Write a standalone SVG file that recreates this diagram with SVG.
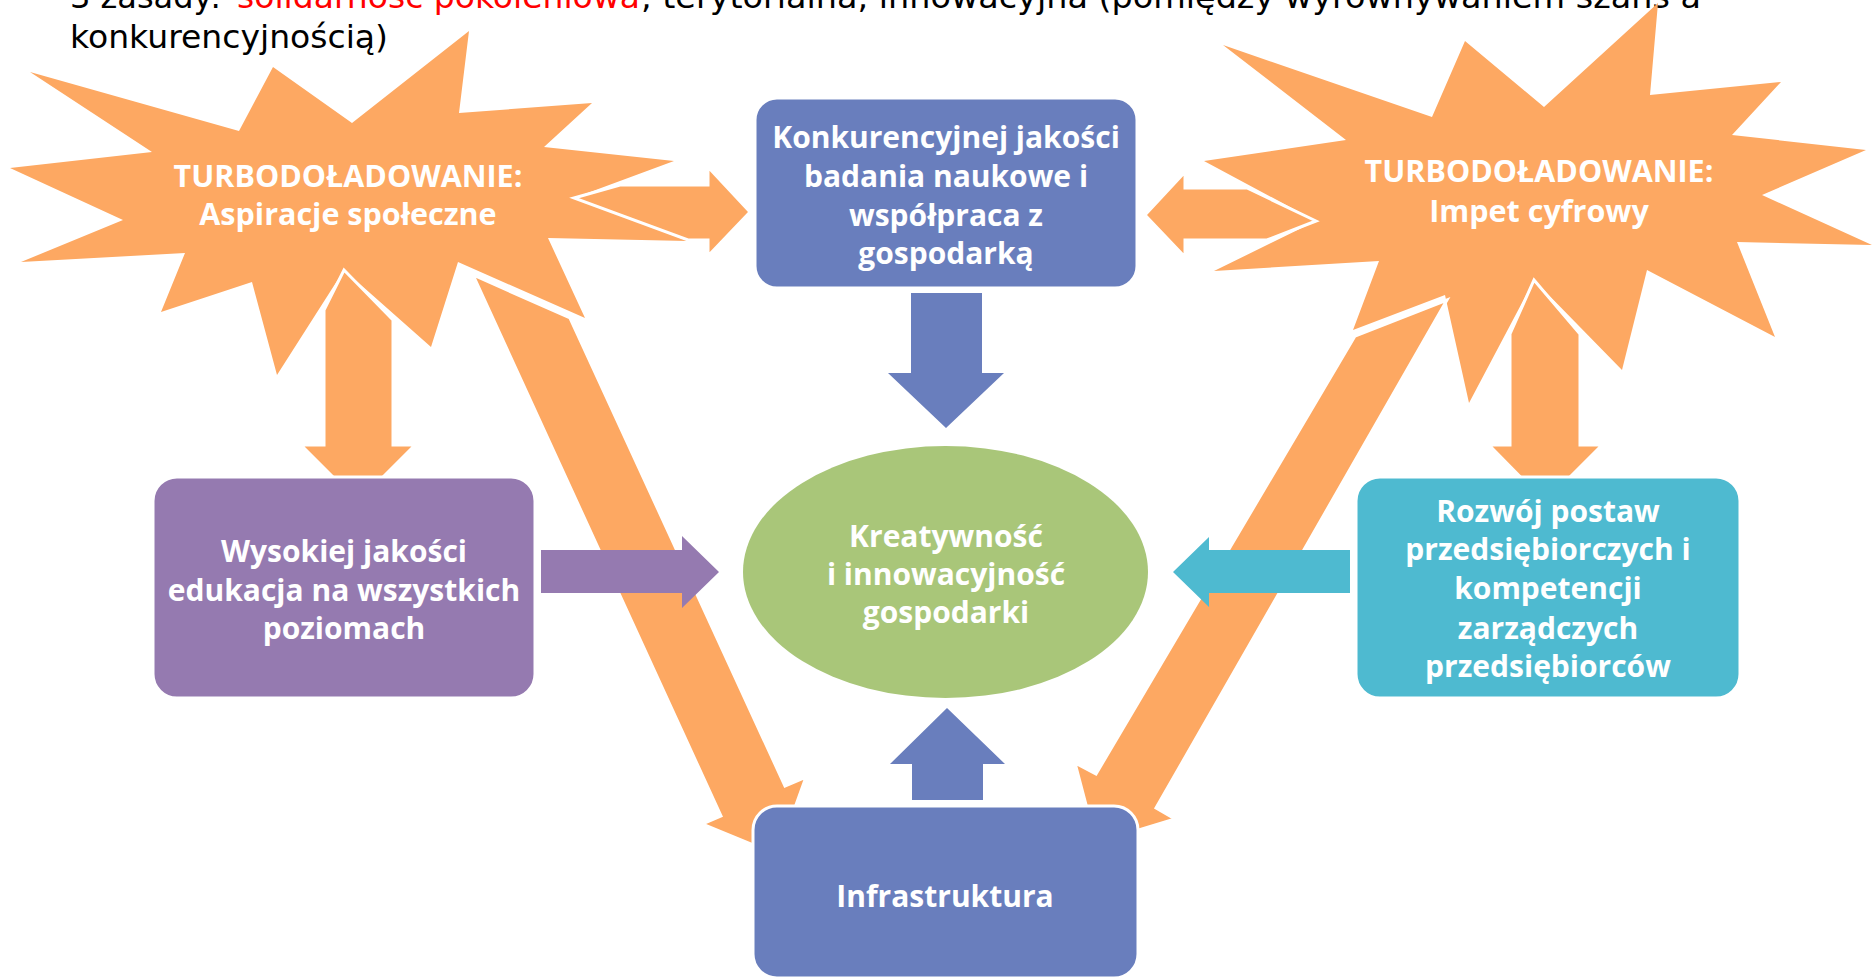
<svg xmlns="http://www.w3.org/2000/svg" width="1872" height="980" viewBox="0 0 1872 980">
<style>
.title{font-family:"DejaVu Sans","Liberation Sans",sans-serif;font-size:32px;fill:#000}
.red{fill:#FF0000}
.star{fill:#FDA862}
.oarrow{fill:#FDA862;stroke:#FFFFFF;stroke-width:3;stroke-linejoin:miter}
.lbl{font-family:"Open Sans","Liberation Sans",sans-serif;font-weight:700;font-size:30px;fill:#FFFFFF;text-anchor:middle}
.slbl{font-family:"Open Sans","Liberation Sans",sans-serif;font-weight:700;font-size:30.5px;fill:#FFFFFF;text-anchor:middle}
.blue{fill:#697EBD}
.box{stroke:#FFFFFF;stroke-width:3}
</style>
<rect width="1872" height="980" fill="#FFFFFF"/>
<g id="title">
<text class="title" y="8"><tspan x="70">3 zasady: </tspan></text>
<text class="title red" x="237" y="8" textLength="403" lengthAdjust="spacingAndGlyphs">solidarność pokoleniowa</text>
<text class="title" x="641" y="8" textLength="1060" lengthAdjust="spacingAndGlyphs">, terytorialna, innowacyjna (pomiędzy wyrównywaniem szans a</text>
<text class="title" x="70" y="48" textLength="318" lengthAdjust="spacingAndGlyphs">konkurencyjnością)</text>
</g>
<g id="star-left">
<polygon class="star" points="30,72 239,131 273,67 352,123 469,31 459,113 592,103 544,147 674,161 574,198 688,241 548,238 585,318 458,262 431,347 344,270 277,375 252,282 161,312 185,253 21,262 123,220 10,168 152,152"/>
</g>
<g id="star-right">
<polygon class="star" points="1223,45 1432,117 1465,41 1544,107 1658,3 1650,95 1781,82 1732,135 1866,150 1762,195 1872,245 1737,242 1775,337 1647,270 1622,370 1534,280 1469,403 1445,295 1353,330 1379,261 1214,271 1316,221 1204,161 1346,140"/>
</g>
<g id="connectors">
<polygon class="oarrow" points="574,198 620,185 708,185 708,167 750,212 708,256 708,240 688,240"/>
<polygon class="oarrow" points="1316,221 1247,188 1185,188 1185,172 1145,215 1185,257 1185,240 1267,240"/>
<polygon class="oarrow" points="344,270 393,320 393,445 415,445 358,502 301,445 324,445 324,310"/>
<polygon class="oarrow" points="1534,280 1580,334 1580,445 1602,445 1545,502 1489,445 1510,445 1510,334"/>
<polygon class="oarrow" points="473,275 570,318 785,786 806,777 778,855 702,824 721,816"/>
<polygon class="oarrow" points="1355,336 1447,300 1156,808 1175,819 1096,843 1075,763 1096,774"/>
<polygon class="blue" points="911,293 982,293 982,373 1004,373 946,428 888,373 911,373"/>
<polygon class="blue" points="912,800 912,764 890,764 947,708 1005,764 983,764 983,800"/>
<polygon fill="#957AB0" points="541,550 682,550 682,536 719,572 682,608 682,593 541,593"/>
<polygon fill="#4EBAD0" points="1350,550 1209,550 1209,537 1173,572 1209,607 1209,593 1350,593"/>
</g>
<g id="turbo-left">
<text class="slbl" x="348" y="187">TURBODOŁADOWANIE:</text>
<text class="slbl" x="348" y="225">Aspiracje społeczne</text>
</g>
<g id="turbo-right">
<text class="slbl" x="1539" y="182">TURBODOŁADOWANIE:</text>
<text class="slbl" x="1539" y="222">Impet cyfrowy</text>
</g>
<g id="research">
<rect class="blue box" x="755" y="98" width="382" height="190" rx="22"/>
<text class="lbl" x="946" y="148">Konkurencyjnej jakości</text>
<text class="lbl" x="946" y="187">badania naukowe i</text>
<text class="lbl" x="946" y="226">współpraca z</text>
<text class="lbl" x="946" y="264">gospodarką</text>
</g>
<g id="education">
<rect class="box" fill="#957AB0" x="153" y="477" width="382" height="221" rx="24"/>
<text class="lbl" x="344" y="562">Wysokiej jakości</text>
<text class="lbl" x="344" y="601">edukacja na wszystkich</text>
<text class="lbl" x="344" y="639">poziomach</text>
</g>
<g id="creativity">
<ellipse fill="#A9C679" cx="945.5" cy="572" rx="202.5" ry="126"/>
<text class="lbl" x="946" y="547">Kreatywność</text>
<text class="lbl" x="946" y="585">i innowacyjność</text>
<text class="lbl" x="946" y="623">gospodarki</text>
</g>
<g id="entrepreneurship">
<rect class="box" fill="#4EBAD0" x="1356" y="477" width="384" height="221" rx="24"/>
<text class="lbl" x="1548" y="522">Rozwój postaw</text>
<text class="lbl" x="1548" y="560">przedsiębiorczych i</text>
<text class="lbl" x="1548" y="599">kompetencji</text>
<text class="lbl" x="1548" y="639">zarządczych</text>
<text class="lbl" x="1548" y="677">przedsiębiorców</text>
</g>
<g id="infrastructure">
<rect class="blue box" x="753" y="806" width="385" height="172" rx="24"/>
<text class="lbl" x="945" y="907">Infrastruktura</text>
</g>
</svg>
